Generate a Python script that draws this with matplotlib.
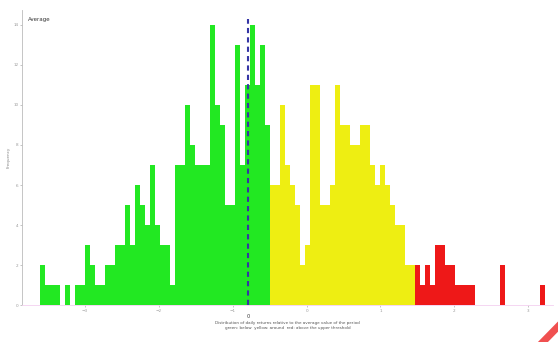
import numpy as np
import matplotlib
matplotlib.use('Agg')
import matplotlib.pyplot as plt
from matplotlib.patches import Polygon

# histogram counts per bin
counts = [2, 1, 1, 1, 0, 1, 0, 1, 1, 3,
          2, 1, 1, 2, 2, 3, 3, 5, 3, 6,
          5, 4, 7, 4, 3, 3, 1, 7, 7, 10,
          8, 7, 7, 7, 14, 10, 9, 5, 5, 13,
          7, 11, 14, 11, 13, 9, 6, 6, 10, 7,
          6, 5, 2, 3, 11, 11, 5, 5, 6, 11,
          9, 9, 8, 8, 9, 9, 7, 6, 7, 6,
          5, 4, 4, 2, 2, 2, 1, 2, 1, 3,
          3, 2, 2, 1, 1, 1, 1, 0, 0, 0,
          0, 0, 2, 0, 0, 0, 0, 0, 0, 0,
          1, 0]
x_start, x_end = -3.61, 3.30
mean_val = -0.79
low_cut, high_cut = -0.495, 1.47
xticks = [-3, -2, -1, 0, 1, 2, 3]
yticks = [0, 2, 4, 6, 8, 10, 12, 14]

edges = np.linspace(x_start, x_end, len(counts) + 1)
width = edges[1] - edges[0]
colors = []
for e in edges[:-1]:
    if e < low_cut - 1e-9:
        colors.append('#22e822')
    elif e < high_cut - 1e-9:
        colors.append('#eeee12')
    else:
        colors.append('#ee1818')

fig = plt.figure(figsize=(5.58, 3.42), dpi=100, facecolor='w')
ax = fig.add_axes([0.0394, 0.108, 0.952, 0.863])
ax.bar(edges[:-1], counts, width=width * 0.93, align='edge', color=colors,
       edgecolor='none', linewidth=0)
ax.axvline(mean_val, ymax=0.97, color='#3535a5', ls='--', lw=1.5, dashes=(2.5, 2))

ax.set_xlim(-3.855, 3.34)
ax.set_ylim(0, 14.75)
ax.set_xticks(xticks)
ax.set_yticks(yticks)
ax.tick_params(labelsize=3, colors='#999999', length=1.5, width=0.4, pad=1)
for s in ['top', 'right']:
    ax.spines[s].set_visible(False)
ax.spines['left'].set_color('#bbbbbb')
ax.spines['bottom'].set_color('#f4d0f0')
ax.spines['left'].set_linewidth(0.6)
ax.spines['bottom'].set_linewidth(0.6)

ax.set_ylabel('Frequency', fontsize=3, color='#888888', labelpad=2)
ax.text(0.012, 0.975, 'Average', transform=ax.transAxes, fontsize=4,
        color='#333333', va='top')
ax.text(mean_val, -0.45, '0', fontsize=3.5, color='#333333',
        ha='center', va='top')
fig.text(0.515, 0.035, 'Distribution of daily returns relative to the average value of the period\n'
         'green: below  yellow: around  red: above the upper threshold',
         fontsize=3, color='#555555', ha='center', va='bottom', linespacing=1.2)

fig.patches.append(Polygon([[0.964, 0.0], [0.982, 0.0], [1.0, 0.03], [1.0, 0.06]],
                           closed=True, transform=fig.transFigure,
                           facecolor='#f05050', edgecolor='none'))

fig.savefig('out.png', dpi=100, facecolor='w')
